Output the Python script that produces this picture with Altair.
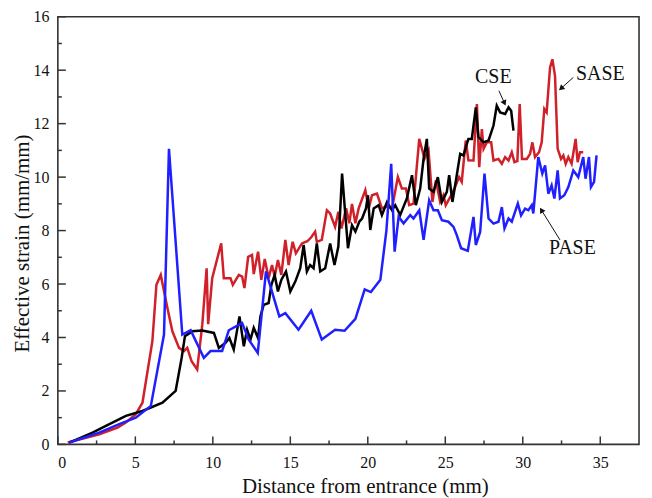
import math
import altair as alt
import pandas as pd

# ---------------- data ----------------
cse_x = [0.74, 2.24, 3.1, 4.39, 5.46, 6.75, 7.6, 7.99, 8.2, 8.67, 9.32, 10.07, 10.39, 10.82, 11.07,
         11.35, 11.72, 12.0, 12.21, 12.43, 12.64, 12.92, 13.07, 13.28, 13.6, 13.78, 13.99, 14.2, 14.42,
         14.72, 15.0, 15.32, 15.64, 15.86, 16.07, 16.28, 16.5, 16.71, 16.93, 17.25, 17.57, 17.85, 18.1,
         18.34, 18.72, 18.98, 19.2, 19.45, 19.63, 19.88, 20.01, 20.16, 20.38, 20.7, 20.91, 21.24, 21.56,
         21.77, 22.09, 22.52, 22.85, 23.1, 23.38, 23.6, 23.81, 23.96, 24.24, 24.52, 24.78, 25.1, 25.25,
         25.46, 25.74, 25.96, 26.17, 26.49, 26.71, 26.97, 27.14, 27.47, 27.79, 28.11, 28.32, 28.54,
         28.86, 29.08, 29.25, 29.4]
cse_y = [0.07, 0.44, 0.69, 1.07, 1.25, 1.56, 2.0, 3.24, 4.05, 4.23, 4.26, 4.17, 3.61, 3.8, 3.98,
         3.55, 4.79, 3.67, 4.29, 3.92, 4.36, 3.98, 4.79, 5.22, 5.29, 5.97, 6.34, 5.72, 6.15,
         6.47, 5.72, 6.09, 6.59, 7.46, 6.47, 6.71, 6.59, 7.52, 6.47, 6.59, 7.52, 6.71, 7.4,
         10.13, 7.34, 8.2, 7.96, 8.33, 8.45, 8.83, 9.32, 8.02, 8.83, 8.95, 8.58, 9.07, 8.76,
         8.95, 8.58, 9.2, 10.07, 8.95, 9.57, 10.69, 11.43, 9.57, 9.45, 10.0, 9.07, 9.45, 10.07,
         9.07, 10.07, 10.87, 10.81, 11.43, 11.43, 12.61, 11.5, 11.3, 11.37, 11.93, 12.67, 12.42,
         12.36, 12.61, 12.48, 11.74]

sase_x = [0.64, 2.67, 3.85, 4.39, 5.03, 5.46, 6.1, 6.36, 6.64, 7.07, 7.39, 7.82, 8.14, 8.35, 8.63,
          8.99, 9.32, 9.6, 9.7, 9.96, 10.54, 10.71, 11.14, 11.29, 11.68, 11.89, 12.04, 12.28, 12.53,
          12.64, 12.92, 13.13, 13.35, 13.6, 13.82, 13.99, 14.2, 14.42, 14.68, 14.89, 15.15, 15.36,
          15.75, 16.1, 16.35, 16.6, 16.71, 17.03, 17.36, 17.57, 17.89, 18.1, 18.3, 18.6, 18.81,
          18.98, 19.2, 19.41, 19.84, 20.06, 20.27, 20.59, 20.91, 21.17, 21.56, 21.94, 22.2, 22.46,
          22.67, 22.95, 23.32, 23.66, 23.92, 24.17, 24.39, 24.67, 24.88, 25.03, 25.38, 25.59, 25.89,
          26.06, 26.32, 26.49, 26.82, 27.04, 27.19, 27.36, 27.47, 27.68, 27.96, 28.11, 28.43, 28.65,
          28.86, 29.08, 29.29, 29.46, 29.65, 29.8, 29.95, 30.26, 30.47, 30.62, 30.79, 31.05, 31.22,
          31.39, 31.54, 31.76, 31.91, 32.08, 32.25, 32.47, 32.62, 32.77, 32.94, 33.15, 33.41, 33.54,
          33.69, 33.9]
sase_y = [0.07, 0.38, 0.63, 0.82, 1.13, 1.56, 3.86, 5.97, 6.34, 5.1, 4.23, 3.61, 3.49, 3.61, 3.11,
          2.8, 4.48, 6.59, 4.5, 6.22, 7.52, 6.22, 6.22, 5.97, 6.34, 6.28, 5.85, 7.02, 7.09,
          6.37, 7.21, 6.16, 6.94, 6.22, 6.71, 6.28, 6.9, 6.34, 7.65, 6.71, 7.58, 7.15,
          7.52, 7.6, 7.75, 7.96, 7.58, 7.65, 8.76, 8.64, 8.14, 8.7, 8.08, 8.83, 8.27,
          9.0, 8.27, 8.83, 9.51, 8.83, 9.32, 9.38, 8.83, 8.9, 8.83, 10.0, 9.57, 9.57,
          8.95, 9.01, 11.43, 10.69, 11.0, 9.07, 9.88, 9.07, 9.32, 8.95, 9.32, 9.57, 10.0,
          9.82, 11.37, 10.63, 10.62, 12.73, 10.37, 11.8, 11.06, 11.3, 11.3, 10.62, 10.68, 10.5,
          10.75, 10.62, 10.93, 10.56, 10.6, 12.73, 10.68, 10.68, 10.87, 11.3, 10.75, 10.93, 11.3,
          12.55, 12.42, 14.1, 14.41, 13.79, 11.06, 10.68, 10.81, 10.5, 10.75, 10.5, 11.43, 10.56,
          10.93, 10.93]

pase_x = [0.74, 2.67, 3.96, 5.03, 6.0, 6.85, 7.17, 8.03, 8.57, 9.42, 9.85, 10.6, 11.03, 11.89, 12.32,
          12.9, 13.43, 14.29, 14.68, 15.53, 16.35, 17.03, 17.89, 18.5, 19.2, 19.8, 20.2, 20.81, 21.2,
          21.51, 21.73, 21.99, 22.31, 22.74, 22.95, 23.32, 23.6, 23.96, 24.24, 24.52, 24.78, 25.2,
          25.53, 25.74, 26.02, 26.45, 26.82, 26.97, 27.25, 27.53, 27.79, 28.11, 28.43, 28.65, 28.82,
          29.08, 29.29, 29.68, 29.89, 30.15, 30.36, 30.58, 30.68, 31.0, 31.26, 31.44, 31.65, 31.86,
          32.04, 32.25, 32.4, 32.68, 32.94, 33.26, 33.58, 33.9, 34.05, 34.27, 34.4, 34.6, 34.76]
pase_y = [0.07, 0.44, 0.76, 1.0, 1.44, 4.11, 11.06, 4.11, 4.27, 3.24, 3.49, 3.49, 4.27, 4.54, 3.92,
          3.42, 6.47, 4.79, 4.91, 4.29, 5.0, 3.92, 4.29, 4.25, 4.7, 5.8, 5.7, 6.16, 8.0,
          10.5, 7.21, 8.52, 8.27, 8.58, 8.45, 8.76, 7.65, 9.13, 8.76, 8.76, 8.39, 8.33,
          8.14, 7.83, 7.34, 7.24, 8.51, 7.46, 7.95, 10.13, 8.45, 8.26, 8.33, 8.88, 8.08,
          8.45, 8.33, 9.01, 8.57, 8.82, 8.76, 8.95, 8.64, 10.75, 10.13, 10.44, 9.38, 9.69,
          9.2, 10.25, 9.2, 9.32, 9.63, 10.25, 10.0, 10.75, 9.94, 10.75, 9.63, 9.82, 10.81]

x_ticks = [0, 5, 10, 15, 20, 25, 30, 35]
x_minor = [2.5, 7.5, 12.5, 17.5, 22.5, 27.5, 32.5]
y_ticks = [0, 2, 4, 6, 8, 10, 12, 14, 16]
y_minor = [1, 3, 5, 7, 9, 11, 13, 15]

labels = ["CSE", "SASE", "PASE"]
label_x = [28.1, 35.0, 33.2]
label_y = [13.73, 13.84, 7.36]
arrow_x = [28.46, 33.26, 32.4]
arrow_y = [13.23, 13.73, 7.65]
tip_x = [28.82, 32.47, 31.2]
tip_y = [12.77, 13.32, 8.77]

# ---------------- chart ----------------
W, H = 583, 429
X_MAX, Y_MAX = 37.5, 16
FONT = "Liberation Serif"
FRAME = "#333333"
INK = "#111111"

xs = alt.Scale(domain=[0, X_MAX], nice=False, zero=False)
ys = alt.Scale(domain=[0, Y_MAX], nice=False, zero=False)

X_AXIS = alt.Axis(values=x_ticks, title="Distance from entrance (mm)", ticks=False,
                  domain=False, grid=False, labelPadding=10, titlePadding=5,
                  titleX=308, titleAlign="center")
Y_AXIS = alt.Axis(values=y_ticks, title="Effective strain (mm/mm)", ticks=False,
                  domain=False, grid=False, labelPadding=9, titlePadding=0,
                  titleY=227, titleAlign="center")


def X(field):
    return alt.X(field, scale=xs, axis=X_AXIS)


def Y(field):
    return alt.Y(field, scale=ys, axis=Y_AXIS)


def series(xv, yv, color):
    df = pd.DataFrame({"x": xv, "y": yv})
    return alt.Chart(df).mark_line(color=color, strokeWidth=2.5).encode(
        x=X("x:Q"), y=Y("y:Q"))


def xtick_layer(vals, length):
    return alt.Chart(pd.DataFrame({"v": vals})).mark_rule(color=FRAME, strokeWidth=1.5).encode(
        x=X("v:Q"), y=alt.value(H), y2=alt.value(H - length))


def ytick_layer(vals, length):
    return alt.Chart(pd.DataFrame({"v": vals})).mark_rule(color=FRAME, strokeWidth=1.5).encode(
        y=Y("v:Q"), x=alt.value(0), x2=alt.value(length))


ann = pd.DataFrame({"label": labels, "lx": label_x, "ly": label_y,
                    "ax": arrow_x, "ay": arrow_y, "tx": tip_x, "ty": tip_y})
angs = []
for i in range(len(labels)):
    dx = (tip_x[i] - arrow_x[i]) * W / X_MAX
    dy = -(tip_y[i] - arrow_y[i]) * H / Y_MAX
    angs.append(math.degrees(math.atan2(dx, -dy)) % 360)
ann["ang"] = angs

texts = alt.Chart(ann).mark_text(font=FONT, fontSize=20, align="center", baseline="middle",
                                 color=INK).encode(
    x=X("lx:Q"), y=Y("ly:Q"), text="label:N")
arrows = alt.Chart(ann).mark_rule(color=INK, strokeWidth=1).encode(
    x=X("ax:Q"), y=Y("ay:Q"), x2="tx:Q", y2="ty:Q")
heads = alt.Chart(ann).mark_point(shape="triangle-up", filled=True, size=40, color=INK,
                                  opacity=1).encode(
    x=X("tx:Q"), y=Y("ty:Q"), angle=alt.Angle("ang:Q", scale=None))

chart = alt.layer(
    series(sase_x, sase_y, "#d0202a"),
    series(cse_x, cse_y, "#000000"),
    series(pase_x, pase_y, "#1f1fff"),
    xtick_layer(x_ticks, 8), xtick_layer(x_minor, 4),
    ytick_layer(y_ticks, 8), ytick_layer(y_minor, 4),
    arrows, heads, texts,
).properties(
    width=W, height=H,
    autosize=alt.AutoSizeParams(type="none"),
    padding={"left": 50, "top": 8, "right": 5, "bottom": 53},
).configure_view(
    stroke=FRAME, strokeWidth=1.6
).configure_axis(
    labelFont=FONT, titleFont=FONT, labelFontSize=16, titleFontSize=21,
    titleFontWeight="normal", labelColor=INK, titleColor=INK,
)

chart.save("out.html", embed_options={"renderer": "svg", "actions": False})
